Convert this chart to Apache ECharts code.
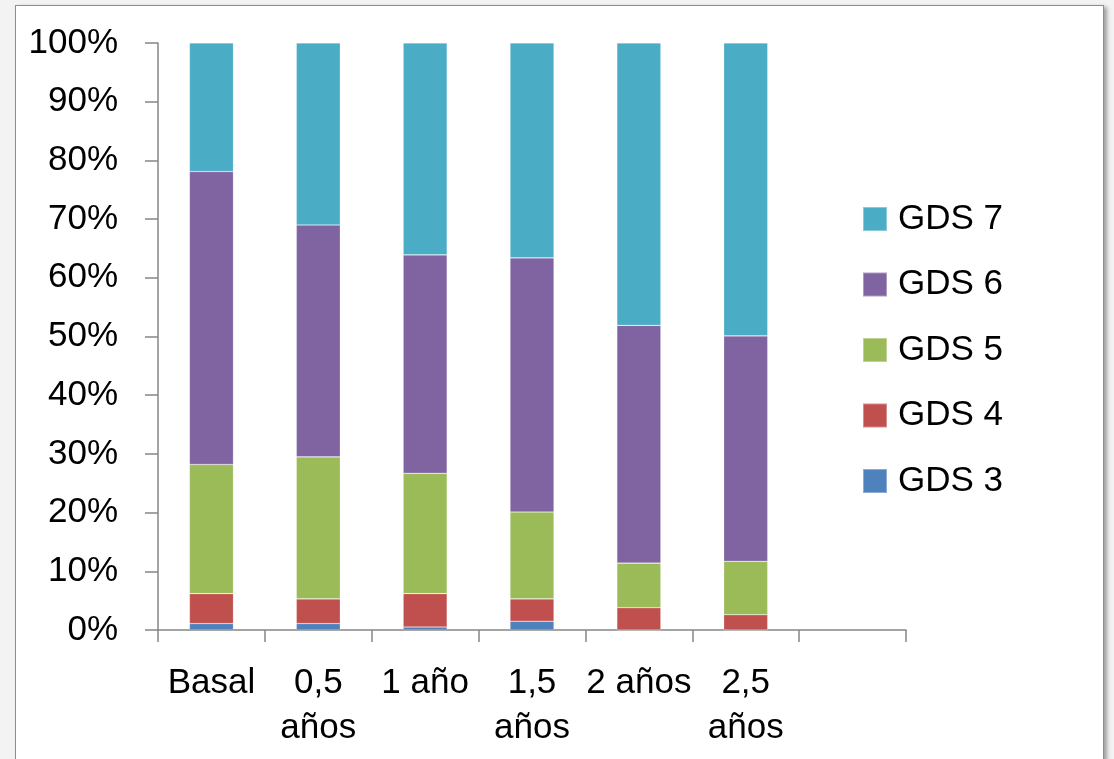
<!DOCTYPE html>
<html>
<head>
<meta charset="utf-8">
<title>GDS</title>
<script src="https://cdn.jsdelivr.net/npm/echarts@6/dist/echarts.min.js"></script>
<style>
  html, body { margin: 0; padding: 0; width: 1114px; height: 759px; overflow: hidden; background: #f3f3f3; }
  #frame { position: absolute; left: 15px; top: 5px; width: 1087px; height: 780px; background: #ffffff;
           border: 1px solid #8e8e8e; box-shadow: 3px 2px 4px rgba(0,0,0,0.35); }
  #chart { position: absolute; left: 0; top: 0; width: 1114px; height: 759px; }
</style>
</head>
<body>
<div id="frame"></div>
<div id="chart"></div>
<script>
// Time points of the follow-up (last slot left empty on the axis)
const categories = ['Basal', '0,5\naños', '1 año', '1,5\naños', '2 años', '2,5\naños', ''];

// Share of patients per GDS stage (%)
const gds3 = [1.1, 1.1, 0.5, 1.5, 0, 0];
const gds4 = [5.1, 4.2, 5.7, 3.8, 3.8, 2.6];
const gds5 = [22.0, 24.2, 20.5, 14.8, 7.6, 9.1];
const gds6 = [49.9, 39.5, 37.2, 43.3, 40.5, 38.4];
const gds7 = [21.9, 31.0, 36.1, 36.6, 48.1, 49.9];

const yTicks = { min: 0, max: 100, interval: 10 };

const FONT = "'Liberation Sans', 'Noto Sans', sans-serif";
const FS = 35;

const seriesDefs = [
  { name: 'GDS 3', data: gds3, color: '#4F81BD' },
  { name: 'GDS 4', data: gds4, color: '#C0504D' },
  { name: 'GDS 5', data: gds5, color: '#9BBB59' },
  { name: 'GDS 6', data: gds6, color: '#8064A2' },
  { name: 'GDS 7', data: gds7, color: '#4BACC6' }
];

const chart = echarts.init(document.getElementById('chart'), null, { renderer: 'canvas' });

chart.setOption({
  backgroundColor: 'transparent',
  animation: false,
  textStyle: { fontFamily: FONT },
  grid: { left: 158, right: 208, top: 43, bottom: 129, containLabel: false },
  legend: {
    orient: 'vertical',
    left: 862,
    top: 199,
    padding: 0,
    itemWidth: 24,
    itemHeight: 24,
    itemGap: 25.5,
    icon: 'rect',
    data: ['GDS 7', 'GDS 6', 'GDS 5', 'GDS 4', 'GDS 3'],
    textStyle: { fontFamily: FONT, fontSize: FS, color: '#000', lineHeight: 40, padding: [0, 0, 0, 6] }
  },
  xAxis: {
    type: 'category',
    data: categories,
    boundaryGap: true,
    axisLine: { show: true, lineStyle: { color: '#868686', width: 1.5 } },
    axisTick: { show: true, length: 12, interval: 0, lineStyle: { color: '#868686', width: 1.5 } },
    axisLabel: { interval: 0, margin: 31, fontFamily: FONT, fontSize: FS, lineHeight: 45, color: '#000' },
    splitLine: { show: false }
  },
  yAxis: {
    type: 'value',
    min: yTicks.min,
    max: yTicks.max,
    interval: yTicks.interval,
    axisLine: { show: true, lineStyle: { color: '#868686', width: 1.5 } },
    axisTick: { show: true, length: 13, inside: false, lineStyle: { color: '#868686', width: 1.5 } },
    axisLabel: { formatter: '{value}%', margin: 40, fontFamily: FONT, fontSize: FS, color: '#000' },
    splitLine: { show: false }
  },
  series: seriesDefs.map(s => ({
    name: s.name,
    type: 'bar',
    stack: 'total',
    barWidth: 44,
    data: s.data,
    itemStyle: { color: s.color, borderColor: 'rgba(255,255,255,0.35)', borderWidth: 0.6 },
    emphasis: { disabled: true }
  }))
});
</script>
</body>
</html>
